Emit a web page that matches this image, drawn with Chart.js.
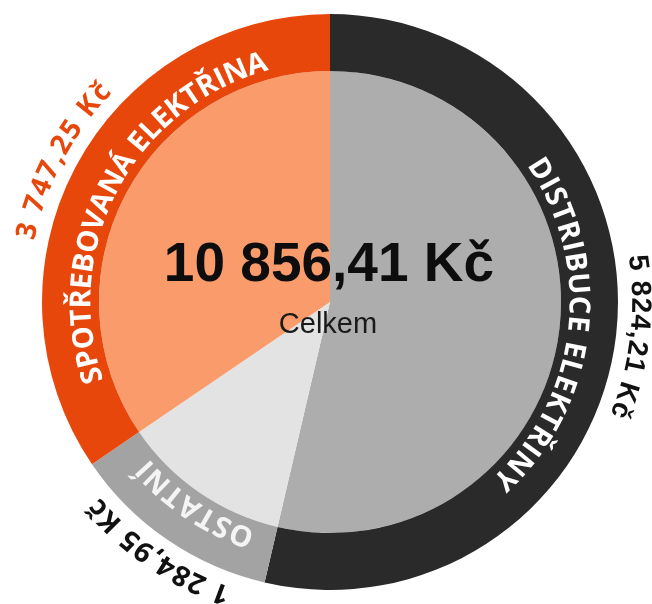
<!DOCTYPE html>
<html>
<head>
<meta charset="utf-8">
<script src="https://cdn.jsdelivr.net/npm/chart.js@4.4.1/dist/chart.umd.min.js"></script>
<style>
  html, body { margin: 0; padding: 0; background: #fff; }
  #wrap { width: 652px; height: 604px; position: relative; }
</style>
</head>
<body>
<div id="wrap"><canvas id="costChart"></canvas></div>
<script>
// Rozpis nákladů – data
const categories = ['DISTRIBUCE ELEKTŘINY', 'OSTATNÍ', 'SPOTŘEBOVANÁ ELEKTŘINA'];
const amounts = [5824.21, 1284.95, 3747.25];
const ringColors = ['#2a2a2a', '#a3a3a3', '#e8470c'];
const pieColors = ['#adadad', '#e3e3e3', '#fa9b6b'];
const totalLabel = 'Celkem';

// styly popisků (písmo, barva, úhlový rozsah v °)
const nameStyles = [
    { size: 29, weight: 700, family: '"Open Sans"', color: '#ffffff', span: 77.6 },
    { size: 29, weight: 700, family: '"Open Sans"', color: '#f4f4f4', span: 27.2 },
    { size: 29, weight: 700, family: '"Open Sans"', color: '#ffffff', span: 90 }
];
const valueStyles = [
    { size: 28, weight: 700, family: '"Liberation Sans"', color: '#111111', span: 27.7 },
    { size: 28, weight: 700, family: '"Open Sans"', color: '#111111', span: 27.9 },
    { size: 28, weight: 700, family: '"Open Sans"', color: '#e8470c', span: 29.3 }
];

// formát čísla: 5 824,21 Kč
function formatKc(v) {
    const [int, dec] = v.toFixed(2).split('.');
    return int.replace(/\B(?=(\d{3})+(?!\d))/g, ' ') + ',' + dec + ' Kč';
}

// text po oblouku, po směru hodinových ručiček, hlavičkou ven
function drawArcText(ctx, text, cx, cy, r, mid, style) {
    ctx.font = `${style.weight} ${style.size}px ${style.family}`;
    ctx.fillStyle = style.color;
    ctx.textAlign = 'center';
    ctx.textBaseline = 'alphabetic';
    const chars = [...text];
    const widths = chars.map(c => ctx.measureText(c).width);
    const n = chars.length;
    const inner = widths.reduce((a, b) => a + b, 0) - widths[0] / 2 - widths[n - 1] / 2;
    const spanArc = style.span * Math.PI / 180 * r;
    const gap = (spanArc - inner) / (n - 1);
    const capH = style.size * 0.71;
    let pos = -spanArc / 2;
    chars.forEach((ch, i) => {
        const a = mid + pos / r;
        ctx.save();
        ctx.translate(cx + r * Math.cos(a), cy + r * Math.sin(a));
        ctx.rotate(a + Math.PI / 2);
        ctx.fillText(ch, 0, capH / 2);
        ctx.restore();
        if (i < n - 1) pos += widths[i] / 2 + gap + widths[i + 1] / 2;
    });
}

const ringLabels = {
    id: 'ringLabels',
    afterDraw(chart) {
        const ctx = chart.ctx;
        const arcs = chart.getDatasetMeta(0).data;
        arcs.forEach((arc, i) => {
            const mid = (arc.startAngle + arc.endAngle) / 2;
            drawArcText(ctx, categories[i], arc.x, arc.y, arc.innerRadius + 19, mid, nameStyles[i]);
            drawArcText(ctx, formatKc(amounts[i]), arc.x, arc.y, arc.outerRadius + 24, mid, valueStyles[i]);
        });

        // součet uprostřed
        const c = arcs[0];
        const total = amounts.reduce((a, b) => a + b, 0);
        ctx.save();
        ctx.textAlign = 'center';
        ctx.textBaseline = 'alphabetic';
        ctx.fillStyle = '#0d0d0d';
        ctx.font = 'bold 55px "Liberation Sans"';
        ctx.fillText(formatKc(total), c.x - 1, c.y - 21);
        ctx.fillStyle = '#1a1a1a';
        ctx.font = '29px "Liberation Sans"';
        ctx.fillText(totalLabel, c.x - 2, c.y + 31);
        ctx.restore();
    }
};

document.addEventListener('DOMContentLoaded', () => {
    new Chart(document.getElementById('costChart'), {
        type: 'doughnut',
        data: {
            labels: categories,
            datasets: [{
                data: amounts,
                backgroundColor: ringColors,
                borderWidth: 0,
                weight: 57
            }, {
                data: amounts,
                backgroundColor: pieColors,
                borderWidth: 0,
                weight: 231
            }]
        },
        options: {
            responsive: true,
            maintainAspectRatio: false,
            animation: false,
            cutout: 0,
            layout: {
                padding: { left: 42, right: 34, top: 14, bottom: 14 }
            },
            plugins: {
                legend: { display: false },
                tooltip: { enabled: false }
            }
        },
        plugins: [ringLabels]
    });
});
</script>
</body>
</html>
